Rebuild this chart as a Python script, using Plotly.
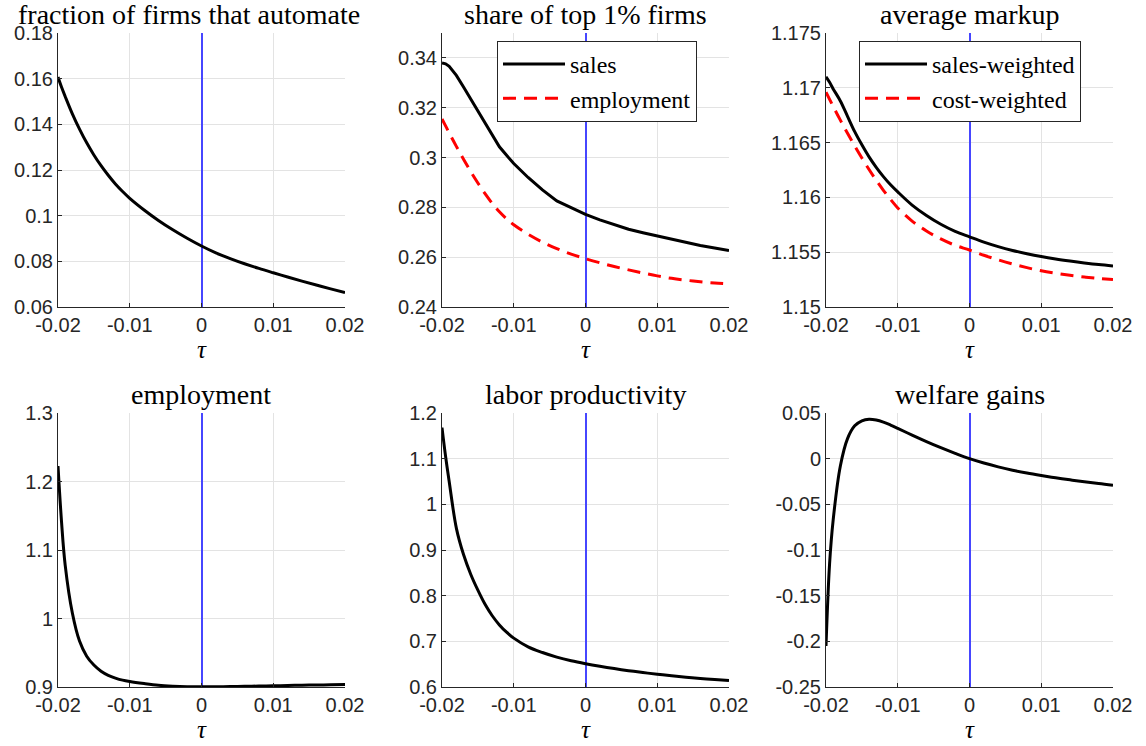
import plotly.graph_objects as go

# ---------------- data ----------------
TAU = [-0.02, -0.0195, -0.019, -0.018, -0.017, -0.016, -0.015, -0.014, -0.013, -0.012,
       -0.011, -0.010, -0.008, -0.006, -0.004, -0.002, 0.0, 0.002, 0.004, 0.006,
       0.008, 0.010, 0.012, 0.014, 0.016, 0.018, 0.020]

frac_automate = [0.1607, 0.1562, 0.1522, 0.1446, 0.1379, 0.1319, 0.1266, 0.1219, 0.1177, 0.1139,
                 0.1106, 0.1076, 0.1025, 0.0979, 0.0938, 0.0901, 0.0867, 0.0837, 0.0812, 0.07895,
                 0.0769, 0.0750, 0.07315, 0.07135, 0.06963, 0.06794, 0.06628]

top1_sales = [0.3380, 0.3376, 0.3366, 0.3330, 0.3283, 0.3234, 0.3185, 0.3136, 0.3088, 0.3043,
              0.3009, 0.2976, 0.2920, 0.2870, 0.2826, 0.2798, 0.2772, 0.2750, 0.2730, 0.2712,
              0.2698, 0.2685, 0.2671, 0.2659, 0.2647, 0.2637, 0.2627]

top1_employment = [0.3155, 0.3127, 0.3099, 0.3045, 0.2993, 0.2944, 0.2898, 0.2855, 0.2816, 0.2782,
                   0.2754, 0.2730, 0.2692, 0.26605, 0.26345, 0.26125, 0.2594, 0.25775, 0.25625, 0.2549,
                   0.25365, 0.2525, 0.2515, 0.25075, 0.25015, 0.24965, 0.2493]

markup_sales = [1.1710, 1.1705, 1.1699, 1.1688, 1.1674, 1.1660, 1.1648, 1.1637, 1.16275, 1.1619,
                1.16115, 1.1605, 1.1593, 1.15835, 1.15755, 1.1569, 1.1564, 1.15592, 1.15551, 1.15516,
                1.15486, 1.1546, 1.15438, 1.15419, 1.15402, 1.15387, 1.15375]

markup_cost = [1.1696, 1.16895, 1.1683, 1.16705, 1.16585, 1.1647, 1.1636, 1.16255, 1.16156, 1.16065,
               1.15981, 1.15904, 1.15784, 1.15694, 1.15621, 1.15563, 1.1552, 1.15472, 1.1543, 1.15392,
               1.15359, 1.1533, 1.15308, 1.1529, 1.15274, 1.15261, 1.1525]

employment = [1.2225, 1.1400, 1.0780, 1.0080, 0.9670, 0.9450, 0.9320, 0.9230, 0.9170, 0.9130,
              0.9100, 0.9080, 0.9050, 0.9025, 0.9012, 0.9005, 0.9003, 0.9004, 0.9007, 0.9010,
              0.9014, 0.9018, 0.9022, 0.9026, 0.9029, 0.9032, 0.9035]

labor_prod = [1.168, 1.105, 1.050, 0.948, 0.890, 0.847, 0.812, 0.781, 0.756, 0.736,
              0.720, 0.707, 0.688, 0.6755, 0.6655, 0.6575, 0.6510, 0.6453, 0.6403, 0.6358,
              0.6317, 0.6280, 0.6246, 0.6216, 0.6188, 0.6163, 0.6140]

welfare = [-0.205, -0.115, -0.067, -0.008, 0.022, 0.0360, 0.0415, 0.0432, 0.0423, 0.0400,
           0.0368, 0.0332, 0.0258, 0.0187, 0.0120, 0.0058, 0.0, -0.0048, -0.0090, -0.0127,
           -0.0158, -0.0185, -0.0210, -0.0232, -0.0252, -0.0272, -0.0290]

X_TICKS = [-0.02, -0.01, 0, 0.01, 0.02]
X_TICKTEXT = ["-0.02", "-0.01", "0", "0.01", "0.02"]

TITLES = ["fraction of firms that automate", "share of top 1% firms", "average markup",
          "employment", "labor productivity", "welfare gains"]

Y_RANGES = [[0.06, 0.18], [0.24, 0.35], [1.15, 1.175], [0.9, 1.3], [0.6, 1.2], [-0.25, 0.05]]
Y_TICKS = [
    [0.06, 0.08, 0.1, 0.12, 0.14, 0.16, 0.18],
    [0.24, 0.26, 0.28, 0.3, 0.32, 0.34],
    [1.15, 1.155, 1.16, 1.165, 1.17, 1.175],
    [0.9, 1.0, 1.1, 1.2, 1.3],
    [0.6, 0.7, 0.8, 0.9, 1.0, 1.1, 1.2],
    [-0.25, -0.2, -0.15, -0.1, -0.05, 0, 0.05],
]
Y_TICKTEXT = [
    ["0.06", "0.08", "0.1", "0.12", "0.14", "0.16", "0.18"],
    ["0.24", "0.26", "0.28", "0.3", "0.32", "0.34"],
    ["1.15", "1.155", "1.16", "1.165", "1.17", "1.175"],
    ["0.9", "1", "1.1", "1.2", "1.3"],
    ["0.6", "0.7", "0.8", "0.9", "1", "1.1", "1.2"],
    ["-0.25", "-0.2", "-0.15", "-0.1", "-0.05", "0", "0.05"],
]

# ---------------- layout geometry ----------------
W, H = 1146, 746
COLS_PX = [(58, 345), (442, 729), (826, 1113)]
ROWS_PX = [(33, 307), (413, 687)]

SERIF = "Liberation Serif"
SANS = "Liberation Sans"
AXC = "#262626"
GRID = "#e3e3e3"
VLINE = "rgb(70,70,255)"   # blue reference line at tau = 0 (x-axis zero line)

fig = go.Figure()

series = [
    [(frac_automate, None, "solid", "black")],
    [(top1_sales, "sales", "solid", "black"), (top1_employment, "employment", "13px,8px", "red")],
    [(markup_sales, "sales-weighted", "solid", "black"), (markup_cost, "cost-weighted", "13px,8px", "red")],
    [(employment, None, "solid", "black")],
    [(labor_prod, None, "solid", "black")],
    [(welfare, None, "solid", "black")],
]

layout_axes = {}
for i in range(6):
    r, c = divmod(i, 3)
    n = i + 1
    xa = "x" if n == 1 else f"x{n}"
    ya = "y" if n == 1 else f"y{n}"
    x0, x1 = COLS_PX[c]
    y0, y1 = ROWS_PX[r]
    common = dict(showgrid=True, gridcolor=GRID, gridwidth=1, showline=True, linecolor=AXC,
                  linewidth=1, ticks="inside", ticklen=4, tickcolor=AXC,
                  tickfont=dict(family=SANS, size=20, color=AXC), mirror=False,
                  automargin=False, showspikes=False)
    layout_axes["xaxis" if n == 1 else f"xaxis{n}"] = dict(
        domain=[x0 / W, x1 / W], anchor=ya, range=[-0.02, 0.02],
        tickvals=X_TICKS, ticktext=X_TICKTEXT,
        zeroline=True, zerolinecolor=VLINE, zerolinewidth=1.6,
        title=dict(text="<i>τ</i>", font=dict(family=SERIF, size=25, color="black"), standoff=0),
        **common)
    layout_axes["yaxis" if n == 1 else f"yaxis{n}"] = dict(
        domain=[1 - y1 / H, 1 - y0 / H], anchor=xa, range=Y_RANGES[i],
        tickvals=Y_TICKS[i], ticktext=Y_TICKTEXT[i],
        zeroline=False, zerolinecolor=GRID, zerolinewidth=1, **common)

    for vals, name, dash, color in series[i]:
        leg = "legend2" if i == 2 else "legend"
        fig.add_trace(go.Scatter(
            x=TAU, y=vals, mode="lines", name=name if name else "",
            line=dict(color=color, width=3, dash=dash,
                      shape="linear" if (i == 1 and name == "sales") else "spline", smoothing=1.0),
            xaxis=xa, yaxis=ya, showlegend=name is not None,
            legend=leg, hoverinfo="skip"))

annotations = []
title_x = [189 / W, sum(COLS_PX[1]) / 2 / W, sum(COLS_PX[2]) / 2 / W,
           sum(COLS_PX[0]) / 2 / W, sum(COLS_PX[1]) / 2 / W, sum(COLS_PX[2]) / 2 / W]
title_y = [14, 14, 14, 394, 394, 394]
for i, t in enumerate(TITLES):
    annotations.append(dict(text=t, x=title_x[i], y=1 - title_y[i] / H, xref="paper", yref="paper",
                            xanchor="center", yanchor="middle", showarrow=False, borderpad=0,
                            font=dict(family=SERIF, size=28, color="black")))

legend_style = dict(font=dict(family=SERIF, size=24, color="black"), bgcolor="white",
                    bordercolor=AXC, borderwidth=1, xanchor="left", yanchor="top",
                    tracegroupgap=0, itemwidth=62)

fig.update_layout(
    width=W, height=H, margin=dict(l=0, r=0, t=0, b=0),
    paper_bgcolor="white", plot_bgcolor="white",
    annotations=annotations,
    legend=dict(x=497 / W, y=1 - 41 / H, **legend_style),
    legend2=dict(x=859 / W, y=1 - 41 / H, **legend_style),
    **layout_axes)

fig.write_html("out.html")
